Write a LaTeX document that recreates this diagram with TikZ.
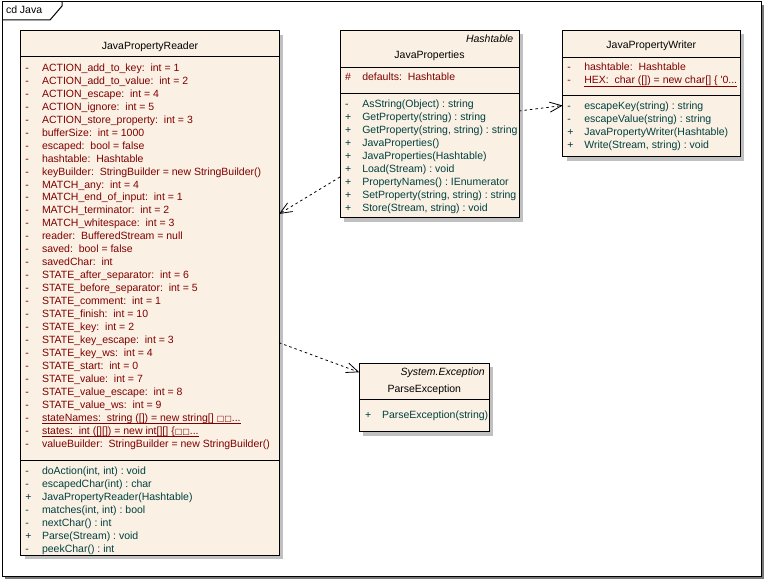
\documentclass[tikz,border=0pt]{standalone}
\usepackage{fontspec}
\setmainfont{Liberation Sans}
\newfontfamily\symfam{DejaVu Sans}
\usetikzlibrary{arrows.meta,calc}
\definecolor{boxfill}{RGB}{250,241,228}
\definecolor{attrc}{RGB}{128,0,0}
\definecolor{opc}{RGB}{0,64,64}
\definecolor{shadowc}{RGB}{192,192,192}
\definecolor{frameshadow}{RGB}{120,120,120}
\newcommand\sqbox{{\symfam\fontsize{8}{10}\selectfont □}}
\frenchspacing
\begin{document}
\begin{tikzpicture}[x=1pt,y=-1pt,
 every node/.style={font=\fontsize{10.5}{12}\selectfont, inner sep=0pt, outer sep=0pt},
 classbox/.style={draw=black, line width=1pt, fill=boxfill, anchor=north west, rectangle},
 attrtxt/.style={text=attrc, anchor=base west},
 optxt/.style={text=opc, anchor=base west},
 nametxt/.style={text=black, anchor=base},
 stereo/.style={text=black, anchor=base east, font=\fontsize{10.5}{12}\selectfont\itshape},
 sepline/.style={draw=black, line width=1pt},
 uline/.style={draw=attrc, line width=1pt},
 dep/.style={draw=black, line width=0.8pt, dash pattern=on 2.5pt off 3pt,
   -{Straight Barb[length=12pt,width=10pt,line width=0.8pt]}},
]
\useasboundingbox (0,0) rectangle (764,580);
% frame
\fill[frameshadow] (5,5) rectangle (764,579);
\draw[line width=1pt, fill=white] (2,2) rectangle (761,576);
\draw[line width=1pt] (2,20) -- (50,20) -- (62,6) -- (62,2);
\node[anchor=base west] (title) at (6,14) {cd Java};

% shadows
\fill[shadowc] (24.7,35) rectangle (283,559);
\fill[shadowc] (344,34.3) rectangle (523,221.7);
\fill[shadowc] (566.7,34.3) rectangle (744,160.7);
\fill[shadowc] (363.3,367.3) rectangle (493.3,435.7);

% ---------------- JavaPropertyReader
\node[classbox, minimum width=258.3pt, minimum height=524pt] (R) at (20.7,31) {};
\node[nametxt] (Rn) at (150,49.3) {JavaPropertyReader};
\draw[sepline] ([yshift=-26pt]R.north west) -- ([yshift=-26pt]R.north east);
\foreach \s/\t [count=\i] in {
 -/{ACTION\_add\_to\_key:\ \ int = 1},
 -/{ACTION\_add\_to\_value:\ \ int = 2},
 -/{ACTION\_escape:\ \ int = 4},
 -/{ACTION\_ignore:\ \ int = 5},
 -/{ACTION\_store\_property:\ \ int = 3},
 -/{bufferSize:\ \ int = 1000},
 -/{escaped:\ \ bool = false},
 -/{hashtable:\ \ Hashtable},
 -/{keyBuilder:\ \ StringBuilder = new StringBuilder()},
 -/{MATCH\_any:\ \ int = 4},
 -/{MATCH\_end\_of\_input:\ \ int = 1},
 -/{MATCH\_terminator:\ \ int = 2},
 -/{MATCH\_whitespace:\ \ int = 3},
 -/{reader:\ \ BufferedStream = null},
 -/{saved:\ \ bool = false},
 -/{savedChar:\ \ int},
 -/{STATE\_after\_separator:\ \ int = 6},
 -/{STATE\_before\_separator:\ \ int = 5},
 -/{STATE\_comment:\ \ int = 1},
 -/{STATE\_finish:\ \ int = 10},
 -/{STATE\_key:\ \ int = 2},
 -/{STATE\_key\_escape:\ \ int = 3},
 -/{STATE\_key\_ws:\ \ int = 4},
 -/{STATE\_start:\ \ int = 0},
 -/{STATE\_value:\ \ int = 7},
 -/{STATE\_value\_escape:\ \ int = 8},
 -/{STATE\_value\_ws:\ \ int = 9},
 -/{stateNames:\ \ string ([]) = new string[] \sqbox\sqbox...},
 -/{states:\ \ int ([][]) = new int[][] \{\sqbox\sqbox...},
 -/{valueBuilder:\ \ StringBuilder = new StringBuilder()}} {
  \pgfmathsetmacro\yy{71.3+12.97*(\i-1)}
  \node[attrtxt] (Ra\i s) at (25.3,\yy) {\s};
  \node[attrtxt] (Ra\i) at (42,\yy) {\t};
}
\draw[uline] ([yshift=-2pt]Ra28.base west) -- ([yshift=-2pt]Ra28.base east);
\draw[uline] ([yshift=-2pt]Ra29.base west) -- ([yshift=-2pt]Ra29.base east);
\draw[sepline] ([yshift=-429.7pt]R.north west) -- ([yshift=-429.7pt]R.north east);
\foreach \s/\t [count=\i] in {
 -/{doAction(int, int) : void},
 -/{escapedChar(int) : char},
 +/{JavaPropertyReader(Hashtable)},
 -/{matches(int, int) : bool},
 -/{nextChar() : int},
 +/{Parse(Stream) : void},
 -/{peekChar() : int}} {
  \pgfmathsetmacro\yy{474+13*(\i-1)}
  \node[optxt] (Ro\i s) at (25.3,\yy) {\s};
  \node[optxt] (Ro\i) at (42,\yy) {\t};
}

% ---------------- JavaProperties
\node[classbox, minimum width=179pt, minimum height=187.4pt] (JP) at (340,30.3) {};
\node[stereo] (JPst) at (513.3,42.5) {Hashtable};
\node[nametxt] (JPn) at (429.5,59) {JavaProperties};
\draw[sepline] ([yshift=-37.4pt]JP.north west) -- ([yshift=-37.4pt]JP.north east);
\node[attrtxt] (JPa1s) at (345,81) {\#};
\node[attrtxt] (JPa1) at (362.3,81) {defaults:\ \ Hashtable};
\draw[sepline] ([yshift=-63pt]JP.north west) -- ([yshift=-63pt]JP.north east);
\foreach \s/\t [count=\i] in {
 -/{AsString(Object) : string},
 +/{GetProperty(string) : string},
 +/{GetProperty(string, string) : string},
 +/{JavaProperties()},
 +/{JavaProperties(Hashtable)},
 +/{Load(Stream) : void},
 +/{PropertyNames() : IEnumerator},
 +/{SetProperty(string, string) : string},
 +/{Store(Stream, string) : void}} {
  \pgfmathsetmacro\yy{107.5+12.96*(\i-1)}
  \node[optxt] (JPo\i s) at (345,\yy) {\s};
  \node[optxt] (JPo\i) at (362.3,\yy) {\t};
}

% ---------------- JavaPropertyWriter
\node[classbox, minimum width=177.3pt, minimum height=126.4pt] (W) at (562.7,30.3) {};
\node[nametxt] (Wn) at (651.3,49) {JavaPropertyWriter};
\draw[sepline] ([yshift=-27.4pt]W.north west) -- ([yshift=-27.4pt]W.north east);
\node[attrtxt] (Wa1s) at (567.3,71) {-};
\node[attrtxt] (Wa1) at (584.3,71) {hashtable:\ \ Hashtable};
\node[attrtxt] (Wa2s) at (567.3,84) {-};
\node[attrtxt] (Wa2) at (584.3,84) {HEX:\ \ char ([]) = new char[] \{ \textquotesingle 0...};
\draw[uline] ([yshift=-2.3pt]Wa2.base west) -- ([yshift=-2.3pt]Wa2.base east);
\draw[sepline] ([yshift=-65.7pt]W.north west) -- ([yshift=-65.7pt]W.north east);
\foreach \s/\t [count=\i] in {
 -/{escapeKey(string) : string},
 -/{escapeValue(string) : string},
 +/{JavaPropertyWriter(Hashtable)},
 +/{Write(Stream, string) : void}} {
  \pgfmathsetmacro\yy{110+13*(\i-1)}
  \node[optxt] (Wo\i s) at (567.3,\yy) {\s};
  \node[optxt] (Wo\i) at (584.3,\yy) {\t};
}

% ---------------- ParseException
\node[classbox, minimum width=130pt, minimum height=68.4pt] (P) at (359.3,363.3) {};
\node[stereo] (Pst) at (484.7,375.5) {System.Exception};
\node[nametxt] (Pn) at (424.3,392.5) {ParseException};
\draw[sepline] ([yshift=-36.7pt]P.north west) -- ([yshift=-36.7pt]P.north east);
\node[optxt] (Po1s) at (365,418.5) {+};
\node[optxt] (Po1) at (382,418.5) {ParseException(string)};

% ---------------- connectors
\draw[dep] ([yshift=-80.7pt]JP.north east) -- ([yshift=-75.2pt]W.north west);
\draw[dep] ([yshift=-146.7pt]JP.north west) -- ([yshift=-183pt]R.north east);
\draw[dep] ([yshift=-311.7pt]R.north east) -- ([yshift=-9pt]P.north west);
\end{tikzpicture}
\end{document}
